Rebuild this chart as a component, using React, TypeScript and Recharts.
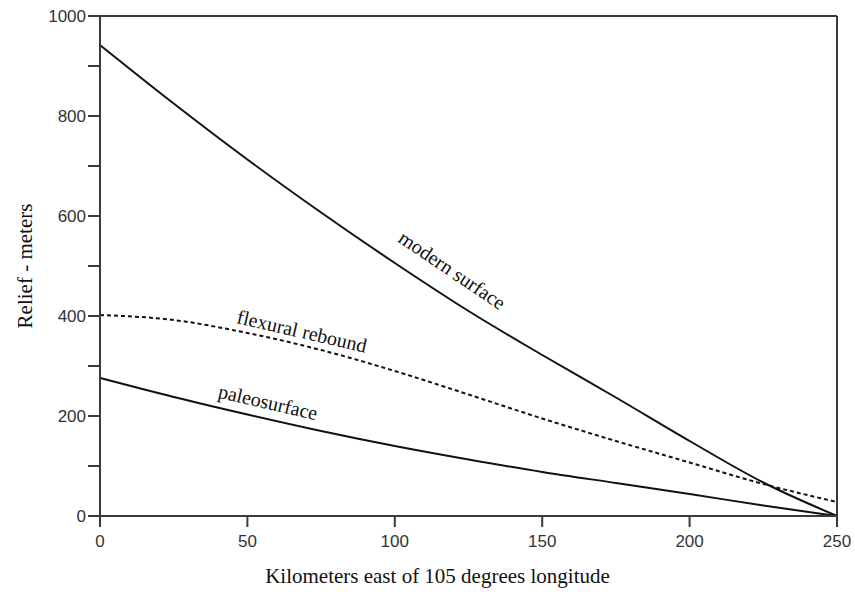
import { Line, LineChart, ReferenceDot, ReferenceLine, XAxis, YAxis } from "recharts";

const km = [0, 25, 50, 75, 100, 125, 150, 175, 200, 225, 250];
const modernSurface = [942, 825, 713, 607, 506, 410, 322, 237, 150, 67, 0];
const flexuralRebound = [402, 392, 366, 332, 290, 243, 195, 150, 107, 64, 28];
const paleosurface = [276, 238, 203, 170, 140, 113, 88, 66, 44, 21, 0];

const xTicks = [0, 50, 100, 150, 200, 250];
const yTicks = [0, 100, 200, 300, 400, 500, 600, 700, 800, 900, 1000];

const data = km.map((k, i) => ({
    km: k,
    modern: modernSurface[i],
    flexural: flexuralRebound[i],
    paleo: paleosurface[i],
}));

const serif = '"Liberation Serif", "Times New Roman", serif';
const sans = '"Liberation Sans", Arial, sans-serif';
const axisColor = "#3a3a3a";
const lineColor = "#111111";

function curveLabel(text: string, angle: number) {
    return (props: any) => {
        const vb = props.viewBox || {};
        const cx = (vb.x ?? 0) + (vb.width ?? 0) / 2;
        const cy = (vb.y ?? 0) + (vb.height ?? 0) / 2;
        return (
            <text
                x={cx}
                y={cy}
                transform={`rotate(${angle} ${cx} ${cy})`}
                textAnchor="middle"
                dominantBaseline="central"
                fontFamily={serif}
                fontSize={20}
                fill="#111"
            >
                {text}
            </text>
        );
    };
}

export default function App() {
    return (
        <div style={{ position: "absolute", left: 0, top: 0, background: "#fff" }}>
            <LineChart width={855} height={592} data={data} margin={{ top: 16, right: 18, left: 0, bottom: 0 }}>
                <XAxis
                    dataKey="km"
                    type="number"
                    domain={[0, 250]}
                    ticks={xTicks}
                    height={76}
                    tickSize={11}
                    tickMargin={8}
                    stroke={axisColor}
                    strokeWidth={2}
                    tick={{ fill: "#333", fontSize: 17, fontFamily: sans }}
                    label={{
                        content: (props: any) => {
                            const vb = props.viewBox || {};
                            return (
                                <text
                                    x={vb.x + vb.width / 2 - 31}
                                    y={583}
                                    textAnchor="middle"
                                    fontFamily={serif}
                                    fontSize={21}
                                    fill="#111"
                                >
                                    Kilometers east of 105 degrees longitude
                                </text>
                            );
                        },
                    }}
                />
                <YAxis
                    type="number"
                    domain={[0, 1000]}
                    ticks={yTicks}
                    width={100}
                    tickSize={12}
                    tickMargin={2}
                    stroke={axisColor}
                    strokeWidth={2}
                    tickFormatter={(v) => (v % 200 === 0 ? `${v}` : "")}
                    tick={{ fill: "#333", fontSize: 17, fontFamily: sans }}
                    label={{
                        content: (props: any) => {
                            const vb = props.viewBox || {};
                            const cx = 25;
                            const cy = vb.y + vb.height / 2;
                            return (
                                <text
                                    x={cx}
                                    y={cy}
                                    transform={`rotate(-90 ${cx} ${cy})`}
                                    textAnchor="middle"
                                    dominantBaseline="central"
                                    fontFamily={serif}
                                    fontSize={21}
                                    fill="#111"
                                >
                                    Relief - meters
                                </text>
                            );
                        },
                    }}
                />
                <ReferenceLine y={1000} stroke={axisColor} strokeWidth={2} />
                <ReferenceLine x={250} stroke={axisColor} strokeWidth={2} />
                <Line
                    type="monotone"
                    dataKey="modern"
                    stroke={lineColor}
                    strokeWidth={2}
                    dot={false}
                    isAnimationActive={false}
                />
                <Line
                    type="monotone"
                    dataKey="flexural"
                    stroke={lineColor}
                    strokeWidth={2}
                    strokeDasharray="4 3"
                    dot={false}
                    isAnimationActive={false}
                />
                <Line
                    type="monotone"
                    dataKey="paleo"
                    stroke={lineColor}
                    strokeWidth={2}
                    dot={false}
                    isAnimationActive={false}
                />
                <ReferenceDot x={119.5} y={492} r={1} fill="none" stroke="none" label={{ content: curveLabel("modern surface", 34) }} />
                <ReferenceDot x={68.5} y={370} r={1} fill="none" stroke="none" label={{ content: curveLabel("flexural rebound", 13) }} />
                <ReferenceDot x={57} y={228} r={1} fill="none" stroke="none" label={{ content: curveLabel("paleosurface", 13) }} />
            </LineChart>
        </div>
    );
}
